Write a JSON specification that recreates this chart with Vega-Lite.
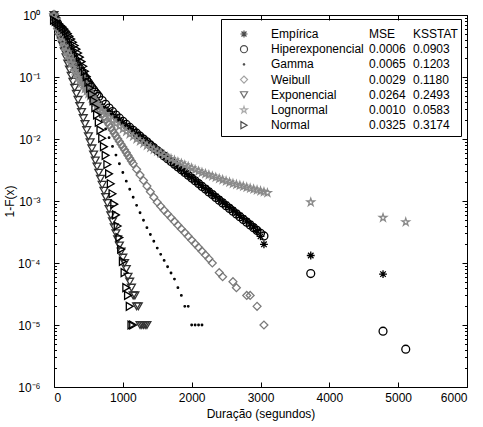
{
"$schema": "https://vega.github.io/schema/vega-lite/v6.json",
"width": 413, "height": 372,
"autosize": {"type": "none"},
"padding": {"left": 54, "top": 15, "right": 15, "bottom": 40},
"config": {
  "font": "Liberation Sans",
  "view": {"stroke": "black", "strokeWidth": 1},
  "axis": {"grid": false, "domain": false, "tickColor": "black", "labelColor": "black", "titleColor": "black", "labelFontSize": 12, "titleFontSize": 12, "titleFontWeight": "normal", "tickWidth": 1, "labelFont": "Liberation Sans", "titleFont": "Liberation Sans"},
  "legend": {"labelFontSize": 12, "labelColor": "black", "labelFont": "Liberation Sans", "labelLimit": 400, "rowPadding": 3.2, "symbolStrokeWidth": 1.2}
},
"datasets": {
  "meta": [
    {"k": "E", "s": "Empírica", "mse": "MSE", "ks": "KSSTAT", "i": 0},
    {"k": "H", "s": "Hiperexponencial", "mse": "0.0006", "ks": "0.0903", "i": 1},
    {"k": "G", "s": "Gamma", "mse": "0.0065", "ks": "0.1203", "i": 2},
    {"k": "W", "s": "Weibull", "mse": "0.0029", "ks": "0.1180", "i": 3},
    {"k": "X", "s": "Exponencial", "mse": "0.0264", "ks": "0.2493", "i": 4},
    {"k": "L", "s": "Lognormal", "mse": "0.0010", "ks": "0.0583", "i": 5},
    {"k": "N", "s": "Normal", "mse": "0.0325", "ks": "0.3174", "i": 6}
  ],
  "pts": [
    {"x":0,"E":0.977,"H":1,"G":1,"W":1,"X":1,"L":1,"N":0.823},
    {"x":25,"E":0.851,"H":0.862,"G":0.871,"W":0.741,"X":0.798,"L":0.832,"N":0.791},
    {"x":50,"E":0.724,"H":0.744,"G":0.759,"W":0.603,"X":0.638,"L":0.676,"N":0.756},
    {"x":75,"E":0.617,"H":0.643,"G":0.661,"W":0.501,"X":0.509,"L":0.55,"N":0.719},
    {"x":100,"E":0.525,"H":0.557,"G":0.562,"W":0.427,"X":0.406,"L":0.447,"N":0.678},
    {"x":125,"E":0.447,"H":0.483,"G":0.49,"W":0.372,"X":0.324,"L":0.372,"N":0.636},
    {"x":150,"E":0.38,"H":0.42,"G":0.427,"W":0.324,"X":0.259,"L":0.309,"N":0.591},
    {"x":175,"E":0.324,"H":0.367,"G":0.372,"W":0.282,"X":0.207,"L":0.26,"N":0.546},
    {"x":200,"E":0.275,"H":0.321,"G":0.324,"W":0.251,"X":0.165,"L":0.221,"N":0.5},
    {"x":225,"E":0.24,"H":0.281,"G":0.282,"W":0.224,"X":0.132,"L":0.191,"N":0.454},
    {"x":250,"E":0.209,"H":0.247,"G":0.245,"W":0.2,"X":0.105,"L":0.164,"N":0.409},
    {"x":275,"E":0.182,"H":0.218,"G":0.214,"W":0.178,"X":0.084,"L":0.143,"N":0.364},
    {"x":300,"E":0.158,"H":0.193,"G":0.186,"W":0.158,"X":0.067,"L":0.126,"N":0.322},
    {"x":325,"E":0.138,"H":0.171,"G":0.162,"W":0.141,"X":0.0535,"L":0.111,"N":0.281},
    {"x":350,"E":0.123,"H":0.152,"G":0.141,"W":0.126,"X":0.0427,"L":0.0989,"N":0.244},
    {"x":375,"E":0.11,"H":0.136,"G":0.123,"W":0.112,"X":0.0341,"L":0.0881,"N":0.209},
    {"x":400,"E":0.0977,"H":0.122,"G":0.107,"W":0.1,"X":0.0272,"L":0.0794,"N":0.177},
    {"x":425,"E":0.0871,"H":0.11,"G":0.0933,"W":0.0891,"X":0.0217,"L":0.0716,"N":0.149},
    {"x":450,"E":0.0776,"H":0.099,"G":0.0813,"W":0.0794,"X":0.0174,"L":0.0646,"N":0.124},
    {"x":475,"E":0.0692,"H":0.0896,"G":0.0708,"W":0.0708,"X":0.0139,"L":0.0589,"N":0.1015},
    {"x":500,"E":0.0631,"H":0.0814,"G":0.0617,"W":0.0631,"X":0.0111,"L":0.0537,"N":0.0824},
    {"x":525,"E":0.0575,"H":0.0742,"G":0.0537,"W":0.0562,"X":0.00883,"L":0.049,"N":0.0662},
    {"x":550,"E":0.0525,"H":0.0678,"G":0.0468,"W":0.0501,"X":0.00705,"L":0.0452,"N":0.0526},
    {"x":575,"E":0.0479,"H":0.0621,"G":0.0407,"W":0.0447,"X":0.00563,"L":0.0417,"N":0.0413},
    {"x":600,"E":0.0437,"H":0.057,"G":0.0347,"W":0.0398,"X":0.00449,"L":0.0385,"N":0.032},
    {"x":625,"E":0.0398,"H":0.0526,"G":0.0302,"W":0.0355,"X":0.00359,"L":0.0355,"N":0.0245},
    {"x":650,"E":0.0372,"H":0.0486,"G":0.0263,"W":0.0316,"X":0.00286,"L":0.0331,"N":0.0186},
    {"x":675,"G":0.0229,"W":0.0285,"X":0.00228,"N":0.0139},
    {"x":700,"E":0.0335,"H":0.0418,"G":0.02,"W":0.0257,"X":0.00182,"L":0.0288,"N":0.0103},
    {"x":725,"W":0.0232,"X":0.00146,"N":0.00753},
    {"x":750,"E":0.0302,"H":0.0362,"G":0.0145,"W":0.0209,"X":0.00116,"L":0.0254,"N":0.00545},
    {"x":775,"W":0.0188,"X":0.000927,"N":0.00388},
    {"x":800,"E":0.0273,"H":0.0316,"G":0.0105,"W":0.017,"X":0.00074,"L":0.0224,"N":0.00274},
    {"x":825,"W":0.0153,"X":0.00059,"N":0.0019},
    {"x":850,"E":0.0247,"H":0.0277,"G":0.00759,"W":0.0138,"X":0.000472,"L":0.02,"N":0.00131},
    {"x":875,"W":0.0124,"X":0.000376,"N":0.000889},
    {"x":900,"E":0.0223,"H":0.0244,"G":0.0055,"W":0.0112,"X":0.000301,"L":0.0178,"N":0.000596},
    {"x":925,"W":0.0101,"X":0.00024,"N":0.000395},
    {"x":950,"E":0.0201,"H":0.0217,"G":0.00398,"W":0.00912,"X":0.000192,"L":0.016,"N":0.000258},
    {"x":975,"W":0.00822,"X":0.000153,"N":0.000167},
    {"x":1000,"E":0.0182,"H":0.0193,"G":0.00288,"W":0.00741,"X":0.000122,"L":0.0145,"N":0.000106},
    {"x":1025,"W":0.00668,"X":0.0001,"N":0.00007},
    {"x":1050,"E":0.0164,"H":0.0172,"G":0.00209,"W":0.00603,"X":0.00008,"L":0.0132,"N":0.00004},
    {"x":1075,"W":0.00543,"X":0.00006,"N":0.00003},
    {"x":1100,"E":0.0149,"H":0.0154,"G":0.00155,"W":0.0049,"X":0.00005,"L":0.012,"N":0.00002},
    {"x":1125,"W":0.00442,"X":0.00004,"N":0.00001},
    {"x":1150,"E":0.0134,"H":0.0138,"G":0.00115,"W":0.00398,"X":0.00003,"L":0.011,"N":0.00001},
    {"x":1175,"X":0.00003},
    {"x":1200,"E":0.0121,"H":0.0124,"G":0.000851,"W":0.00324,"X":0.00002,"L":0.01},
    {"x":1225,"X":0.00002},
    {"x":1250,"E":0.011,"H":0.0111,"G":0.000646,"W":0.00263,"X":0.00001,"L":0.00923},
    {"x":1275,"X":0.00001},
    {"x":1300,"E":0.00991,"H":0.01,"G":0.00049,"W":0.00214,"X":0.00001,"L":0.00851},
    {"x":1325,"X":0.00001},
    {"x":1350,"E":0.00895,"H":0.009,"G":0.000372,"W":0.00174,"X":0.00001,"L":0.00785},
    {"x":1400,"E":0.00809,"H":0.00802,"G":0.000288,"W":0.00141,"L":0.00724},
    {"x":1450,"E":0.00731,"H":0.00724,"G":0.000224,"W":0.00115,"L":0.00676},
    {"x":1500,"E":0.00661,"H":0.00653,"G":0.000174,"W":0.000955,"L":0.00631},
    {"x":1550,"E":0.00597,"H":0.0059,"G":0.000138,"W":0.000822,"L":0.00589},
    {"x":1600,"E":0.0054,"H":0.00532,"G":0.00011,"W":0.000708,"L":0.0055},
    {"x":1650,"E":0.00488,"H":0.0048,"G":0.000087,"W":0.000617,"L":0.00513},
    {"x":1700,"E":0.00441,"H":0.00434,"G":0.000069,"W":0.000537,"L":0.00479},
    {"x":1750,"E":0.00398,"H":0.00391,"G":0.000055,"W":0.000468,"L":0.00452},
    {"x":1800,"E":0.0036,"H":0.00353,"G":0.00004,"W":0.000407,"L":0.00427},
    {"x":1850,"E":0.00325,"H":0.00319,"G":0.00003,"W":0.000355,"L":0.00403},
    {"x":1900,"E":0.00294,"H":0.00288,"G":0.00002,"W":0.000309,"L":0.0038},
    {"x":1950,"E":0.00265,"H":0.0026,"G":0.00002,"W":0.000269,"L":0.00359},
    {"x":2000,"E":0.0024,"H":0.00234,"G":0.00001,"W":0.000234,"L":0.00339},
    {"x":2050,"E":0.00217,"H":0.00212,"G":0.00001,"W":0.000204,"L":0.0032},
    {"x":2100,"E":0.00196,"H":0.00191,"G":0.00001,"W":0.000178,"L":0.00302},
    {"x":2150,"E":0.00177,"H":0.00172,"G":0.00001,"W":0.000155,"L":0.00288},
    {"x":2200,"E":0.0016,"H":0.00156,"W":0.000135,"L":0.00275},
    {"x":2250,"E":0.00145,"H":0.0014,"W":0.000117,"L":0.00263},
    {"x":2300,"E":0.00131,"H":0.00127,"W":0.0001,"L":0.00251},
    {"x":2350,"E":0.00118,"H":0.00114,"L":0.0024},
    {"x":2400,"E":0.00107,"H":0.00103,"W":0.00007,"L":0.00229},
    {"x":2450,"E":0.000964,"H":0.000932,"W":0.00006,"L":0.00219},
    {"x":2500,"E":0.000871,"H":0.000841,"L":0.00209},
    {"x":2550,"E":0.000787,"H":0.000759,"L":0.002},
    {"x":2600,"E":0.000711,"H":0.000685,"W":0.00005,"L":0.00191},
    {"x":2650,"E":0.000643,"H":0.000619,"W":0.00004,"L":0.00184},
    {"x":2700,"E":0.000581,"H":0.000558,"L":0.00178},
    {"x":2750,"E":0.000525,"H":0.000504,"L":0.00172},
    {"x":2800,"E":0.000474,"H":0.000455,"W":0.00003,"L":0.00166},
    {"x":2850,"E":0.000427,"H":0.000411,"W":0.00003,"L":0.0016},
    {"x":2900,"E":0.00038,"H":0.000371,"L":0.00155},
    {"x":2950,"E":0.000331,"H":0.000335,"W":0.00002,"L":0.0015},
    {"x":3000,"E":0.000269,"H":0.000302,"L":0.00145},
    {"x":3050,"E":0.0002,"H":0.000273,"W":0.00001,"L":0.0014},
    {"x":3100,"L":0.00135},
    {"x":3730,"E":0.000132,"H":0.0000676,"L":0.000955},
    {"x":4780,"E":0.0000661,"H":0.00000794,"L":0.000537},
    {"x":5110,"H":0.00000407,"L":0.000457}
  ]
},
"layer": [
  {
    "data": {"name": "pts"},
    "transform": [
      {"fold": ["E","H","G","W","X","L","N"], "as": ["k","y"]},
      {"filter": "isValid(datum.y)"},
      {"lookup": "k", "from": {"data": {"name": "meta"}, "key": "k", "fields": ["s","mse","ks","i"]}}
    ],
    "mark": {"type": "point", "filled": false, "size": 62},
    "encoding": {
      "x": {"field": "x", "type": "quantitative", "scale": {"domain": [0, 6000], "nice": false, "zero": false},
            "axis": {"orient": "bottom", "values": [0,1000,2000,3000,4000,5000,6000], "format": "d", "tickSize": -5, "labelPadding": 10, "title": "Duração (segundos)", "titlePadding": 5}},
      "y": {"field": "y", "type": "quantitative", "scale": {"type": "log", "domain": [0.000001, 1], "nice": false},
            "axis": {"orient": "left", "values": [0.000001,0.00001,0.0001,0.001,0.01,0.1,1], "tickSize": -5, "labelPadding": 19,
                     "labelExpr": "'10' + ['⁰','⁻¹','⁻²','⁻³','⁻⁴','⁻⁵','⁻⁶'][-round(log(datum.value)/LN10)]",
                     "title": "1-F(x)", "titlePadding": 1}},
      "shape": {"field": "s", "type": "nominal",
        "scale": {"domain": ["Empírica","Hiperexponencial","Gamma","Weibull","Exponencial","Lognormal","Normal"],
                  "range": ["M0,-1L0,1M-1,0L1,0M-0.7,-0.7L0.7,0.7M-0.7,0.7L0.7,-0.7", "circle", "M-0.2,0A0.2,0.2,0,1,0,0.2,0A0.2,0.2,0,1,0,-0.2,0Z", "diamond", "triangle-down", "M0,-1L0.225,-0.309L0.951,-0.309L0.363,0.118L0.588,0.809L0,0.382L-0.588,0.809L-0.363,0.118L-0.951,-0.309L-0.225,-0.309Z", "triangle-right"]},
        "legend": {"orient": "none", "legendX": 167, "legendY": 4, "padding": 4, "strokeColor": "black", "symbolOffset": 13, "labelOffset": 21, "symbolSize": 50,
                   "title": "\u200b\u2003\u2003\u2003\u2003\u2003\u2003\u2003\u2003\u2003\u2003\u2003\u2003\u2003\u2003\u2003\u2003\u2003\u2003\u2003\u2003\u2003\u2003\u2003\u2003\u2003\u2003\u2003\u2003\u2003\u2003\u2003\u2003\u2003\u2003\u2003\u2003\u2003\u2003\u2003\u2003\u2003\u2003\u2003\u2003\u2003\u2003\u2003\u2003\u2003\u2003\u2003\u2003\u2003\u2003\u2003\u2003\u2003\u2003\u200b",
                   "titleFontSize": 4, "titlePadding": 1, "titleLimit": 1000}},
      "color": {"field": "s", "type": "nominal",
        "scale": {"domain": ["Empírica","Hiperexponencial","Gamma","Weibull","Exponencial","Lognormal","Normal"],
                  "range": ["#000000","#000000","#000000","#7a7a7a","#333333","#8a8a8a","#000000"]},
        "legend": {"orient": "none", "legendX": 167, "legendY": 4, "padding": 4, "strokeColor": "black", "symbolOffset": 13, "labelOffset": 21, "symbolSize": 50,
                   "title": "\u200b\u2003\u2003\u2003\u2003\u2003\u2003\u2003\u2003\u2003\u2003\u2003\u2003\u2003\u2003\u2003\u2003\u2003\u2003\u2003\u2003\u2003\u2003\u2003\u2003\u2003\u2003\u2003\u2003\u2003\u2003\u2003\u2003\u2003\u2003\u2003\u2003\u2003\u2003\u2003\u2003\u2003\u2003\u2003\u2003\u2003\u2003\u2003\u2003\u2003\u2003\u2003\u2003\u2003\u2003\u2003\u2003\u2003\u2003\u200b",
                   "titleFontSize": 4, "titlePadding": 1, "titleLimit": 1000}},
      "opacity": {"field": "mse", "type": "ordinal",
        "scale": {"domain": ["MSE","0.0006","0.0065","0.0029","0.0264","0.0010","0.0325"], "range": [1, 1]},
        "legend": {"orient": "none", "legendX": 303, "legendY": 13, "title": null, "padding": 0, "symbolOpacity": 0, "symbolStrokeColor": "transparent", "symbolFillColor": "transparent", "symbolSize": 1, "labelOffset": 0}},
      "strokeWidth": {"field": "ks", "type": "ordinal",
        "scale": {"domain": ["KSSTAT","0.0903","0.1203","0.1180","0.2493","0.0583","0.3174"], "range": [1.3, 1.3]},
        "legend": {"orient": "none", "legendX": 347, "legendY": 13, "title": null, "padding": 0, "symbolOpacity": 0, "symbolStrokeColor": "transparent", "symbolFillColor": "transparent", "symbolSize": 1, "labelOffset": 0}},
      "order": {"field": "i", "type": "quantitative"}
    }
  },
  {
    "data": {"values": [{}]},
    "mark": {"type": "point", "opacity": 0},
    "encoding": {
      "x": {"datum": 0, "type": "quantitative", "scale": {"domain": [0, 6000], "nice": false, "zero": false},
            "axis": {"orient": "top", "values": [0,1000,2000,3000,4000,5000,6000], "tickSize": -5, "labels": false, "title": null}},
      "y": {"datum": 1, "type": "quantitative", "scale": {"type": "log", "domain": [0.000001, 1], "nice": false},
            "axis": {"orient": "right", "values": [0.000001,0.00001,0.0001,0.001,0.01,0.1,1], "tickSize": -5, "labels": false, "title": null}}
    }
  },
  {
    "data": {"values": [{}]},
    "mark": {"type": "point", "opacity": 0},
    "encoding": {
      "x": {"datum": 0, "type": "quantitative", "scale": {"domain": [0, 6000], "nice": false, "zero": false}, "axis": null},
      "y": {"datum": 1, "type": "quantitative", "scale": {"type": "log", "domain": [0.000001, 1], "nice": false},
            "axis": {"orient": "left", "values": [2e-6,3e-6,4e-6,5e-6,6e-6,7e-6,8e-6,9e-6,2e-5,3e-5,4e-5,5e-5,6e-5,7e-5,8e-5,9e-5,2e-4,3e-4,4e-4,5e-4,6e-4,7e-4,8e-4,9e-4,2e-3,3e-3,4e-3,5e-3,6e-3,7e-3,8e-3,9e-3,0.02,0.03,0.04,0.05,0.06,0.07,0.08,0.09,0.2,0.3,0.4,0.5,0.6,0.7,0.8,0.9], "tickSize": -2.5, "labels": false, "title": null}}
    }
  },
  {
    "data": {"values": [{}]},
    "mark": {"type": "point", "opacity": 0},
    "encoding": {
      "x": {"datum": 0, "type": "quantitative", "scale": {"domain": [0, 6000], "nice": false, "zero": false}, "axis": null},
      "y": {"datum": 1, "type": "quantitative", "scale": {"type": "log", "domain": [0.000001, 1], "nice": false},
            "axis": {"orient": "right", "values": [2e-6,3e-6,4e-6,5e-6,6e-6,7e-6,8e-6,9e-6,2e-5,3e-5,4e-5,5e-5,6e-5,7e-5,8e-5,9e-5,2e-4,3e-4,4e-4,5e-4,6e-4,7e-4,8e-4,9e-4,2e-3,3e-3,4e-3,5e-3,6e-3,7e-3,8e-3,9e-3,0.02,0.03,0.04,0.05,0.06,0.07,0.08,0.09,0.2,0.3,0.4,0.5,0.6,0.7,0.8,0.9], "tickSize": -2.5, "labels": false, "title": null}}
    }
  }
],
"resolve": {"axis": {"x": "independent", "y": "independent"}}
}
